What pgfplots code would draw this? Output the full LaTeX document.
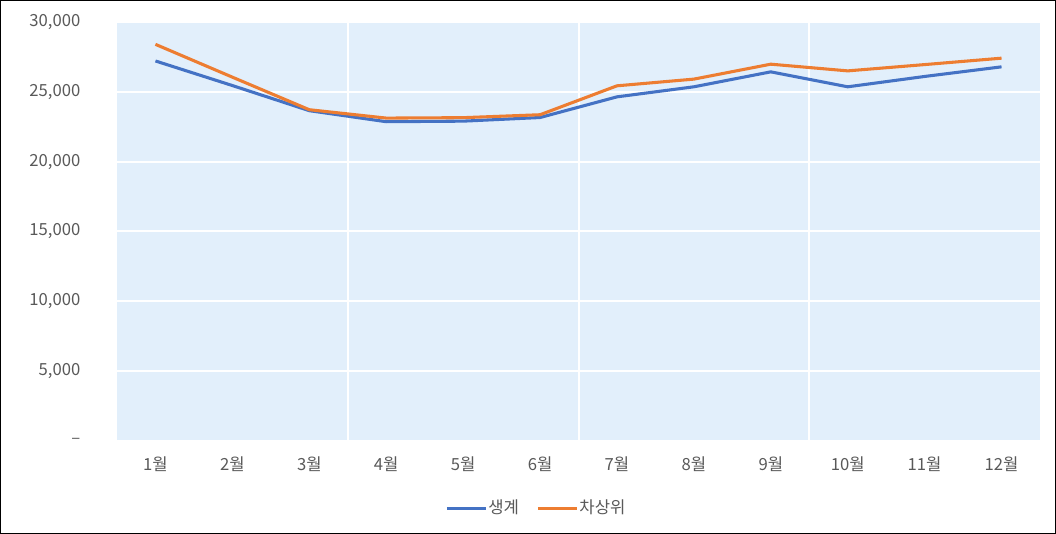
\documentclass[border=0pt]{standalone}
\usepackage{fontspec}
\setmainfont{Noto Sans CJK KR}
\usepackage{pgfplots}
\pgfplotsset{compat=1.18}

\definecolor{bgblue}{HTML}{E2EFFB}
\definecolor{lineblue}{HTML}{4472C4}
\definecolor{lineorange}{HTML}{ED7D31}
\definecolor{labelgray}{HTML}{595959}

\begin{document}
\begin{tikzpicture}
\path[use as bounding box] (0,0) rectangle (792pt,400.5pt);
\begin{axis}[
  at={(87.75pt,69.75pt)}, anchor=south west,
  scale only axis, width=692.25pt, height=314.25pt,
  xmin=0.5, xmax=12.5, ymin=0, ymax=30000,
  scaled ticks=false,
  axis background/.style={fill=bgblue},
  axis line style={draw=none},
  major tick length=0pt,
  xtick={1,...,12},
  xticklabels={1월,2월,3월,4월,5월,6월,7월,8월,9월,10월,11월,12월},
  ytick={0,5000,10000,15000,20000,25000,30000},
  yticklabels={–,{5,000},{10,000},{15,000},{20,000},{25,000},{30,000}},
  ymajorgrids, major grid style={white, line width=1.5pt},
  extra x ticks={3.5,6.5,9.5},
  extra x tick labels={},
  extra x tick style={grid=major, major grid style={white, line width=1.5pt}},
  tick label style={font=\fontsize{12.5}{14}\selectfont, text=labelgray},
  yticklabel style={xshift=-24pt},
  xticklabel style={yshift=-8.5pt},
  legend style={at={(0.454,-0.16)}, anchor=center, draw=none, fill=none,
    font=\fontsize{12.5}{14}\selectfont, text=labelgray,
    legend columns=2,
    nodes={inner xsep=1pt},
    /tikz/every odd column/.append style={column sep=0pt},
    /tikz/every even column/.append style={column sep=12pt}},
  legend image code/.code={\draw[#1] (0pt,0pt) -- (29pt,0pt);},
]
% 생계
\addplot[lineblue, line width=2.3pt, line join=round] coordinates {
  (1,27210) (2,25450) (3,23650) (4,22860) (5,22900) (6,23160)
  (7,24640) (8,25360) (9,26430) (10,25360) (11,26100) (12,26790)
};
\addlegendentry{생계}
% 차상위
\addplot[lineorange, line width=2.3pt, line join=round] coordinates {
  (1,28400) (2,26050) (3,23720) (4,23120) (5,23150) (6,23360)
  (7,25430) (8,25910) (9,26980) (10,26500) (11,26950) (12,27410)
};
\addlegendentry{차상위}
\end{axis}
\draw[line width=1.1pt] (0.55pt,0.55pt) rectangle (791.45pt,399.95pt);
\end{tikzpicture}
\end{document}
